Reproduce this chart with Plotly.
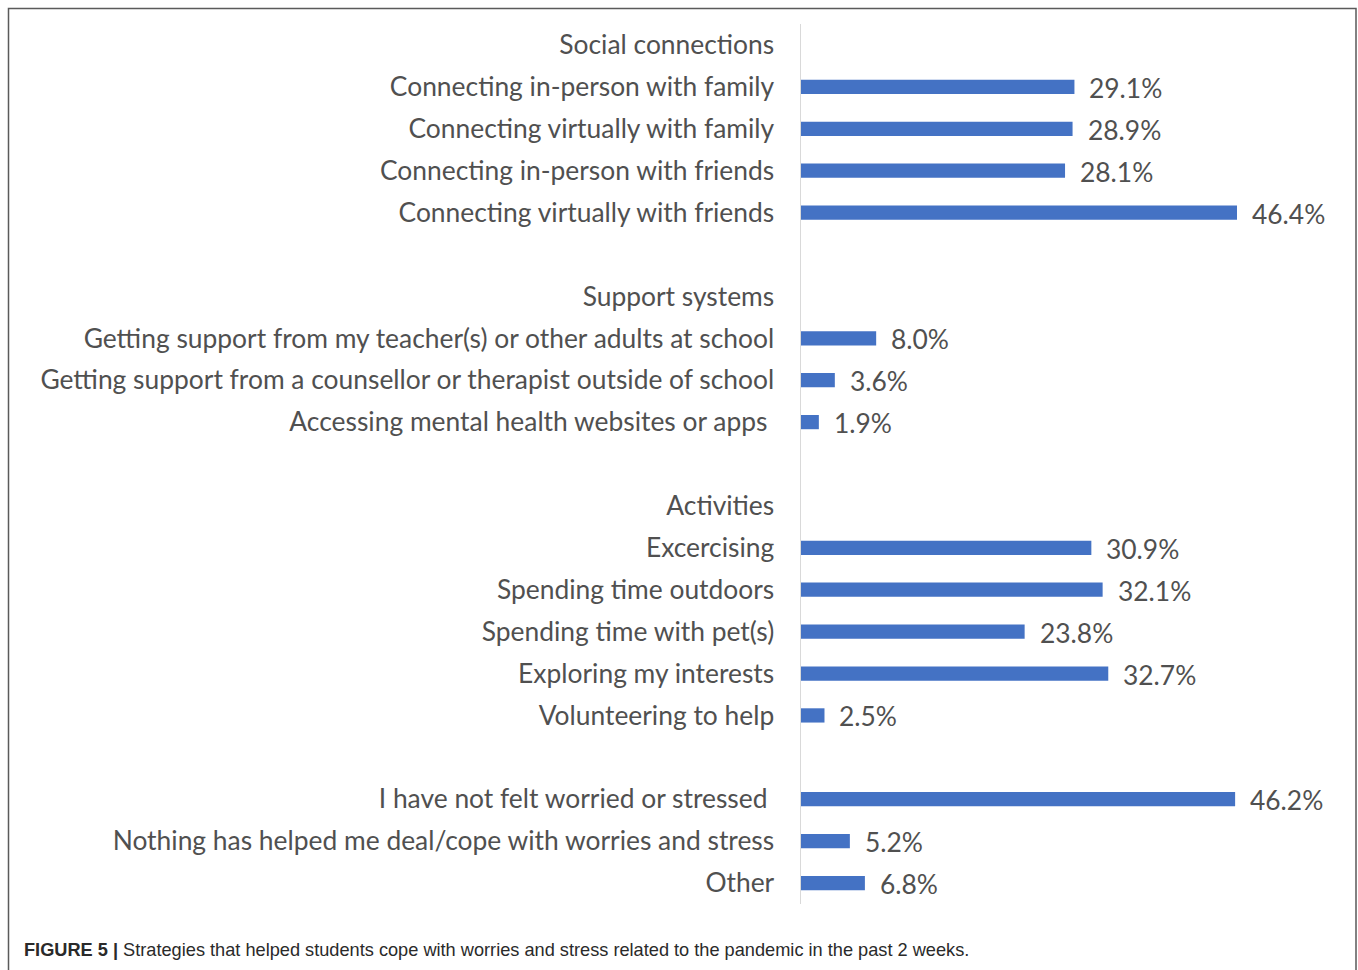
import plotly.graph_objects as go

categories = [
    "Social connections",
    "Connecting in-person with family",
    "Connecting virtually with family",
    "Connecting in-person with friends",
    "Connecting virtually with friends",
    " ",
    "Support systems",
    "Getting support from my teacher(s) or other adults at school",
    "Getting support from a counsellor or therapist outside of school",
    "Accessing mental health websites or apps\u00a0",
    "  ",
    "Activities",
    "Excercising",
    "Spending time outdoors",
    "Spending time with pet(s)",
    "Exploring my interests",
    "Volunteering to help",
    "   ",
    "I have not felt worried or stressed\u00a0",
    "Nothing has helped me deal/cope with worries and stress",
    "Other",
]
values = [None, 29.1, 28.9, 28.1, 46.4, None, None, 8.0, 3.6, 1.9, None, None,
          30.9, 32.1, 23.8, 32.7, 2.5, None, 46.2, 5.2, 6.8]
value_labels = [None if v is None else f"{v:.1f}%" for v in values]

W, H = 1358, 970
L, R, T, B = 801, 1346, 24, 904

FONT = "Lato, Open Sans, sans-serif"
TXT = "#505050"
FS = 26.4

fig = go.Figure(go.Bar(
    x=values, y=categories, orientation="h",
    marker=dict(color="#4472C4", line=dict(width=0)),
    width=0.34, hoverinfo="skip",
))

for c, v, t in zip(categories, values, value_labels):
    if v is None:
        continue
    fig.add_annotation(x=v, y=c, text=t, xanchor="left", yanchor="middle",
                       xshift=13, yshift=-1, showarrow=False,
                       font=dict(family=FONT, size=FS, color=TXT))

def px(xp):
    return (xp - L) / (R - L)

def py(yp):
    return (B - yp) / (B - T)

# outer frame
fig.add_shape(type="rect", xref="paper", yref="paper",
              x0=px(8.5), x1=px(1356), y0=py(990), y1=py(8.5),
              line=dict(color="#5a5a5a", width=1.5), layer="below")

fig.add_annotation(xref="paper", yref="paper", x=px(22), y=py(950),
                   xanchor="left", yanchor="middle", showarrow=False,
                   text="<b>FIGURE 5 |</b> Strategies that helped students cope with worries and stress related to the pandemic in the past 2 weeks.",
                   font=dict(family="Liberation Sans Narrow, Arial Narrow, Liberation Sans, sans-serif", size=18.2, color="#2a2a2a"))

fig.update_layout(
    width=W, height=H,
    margin=dict(l=L, r=W - R, t=T, b=H - B, pad=0),
    paper_bgcolor="white", plot_bgcolor="white",
    showlegend=False,
    xaxis=dict(range=[0, 58], visible=False, showgrid=False, zeroline=False, fixedrange=True),
    yaxis=dict(
        categoryorder="array", categoryarray=categories,
        autorange="reversed",
        showline=True, linecolor="#d9d9d9", linewidth=1.5,
        ticks="", showgrid=False, zeroline=False,
        ticklabelstandoff=20, fixedrange=True,
        tickfont=dict(family=FONT, size=FS, color=TXT),
    ),
)

fig.write_html("out.html",
               config={"displayModeBar": False, "staticPlot": True},
               post_script="document.body.style.margin='0px';document.body.style.overflow='hidden';")
